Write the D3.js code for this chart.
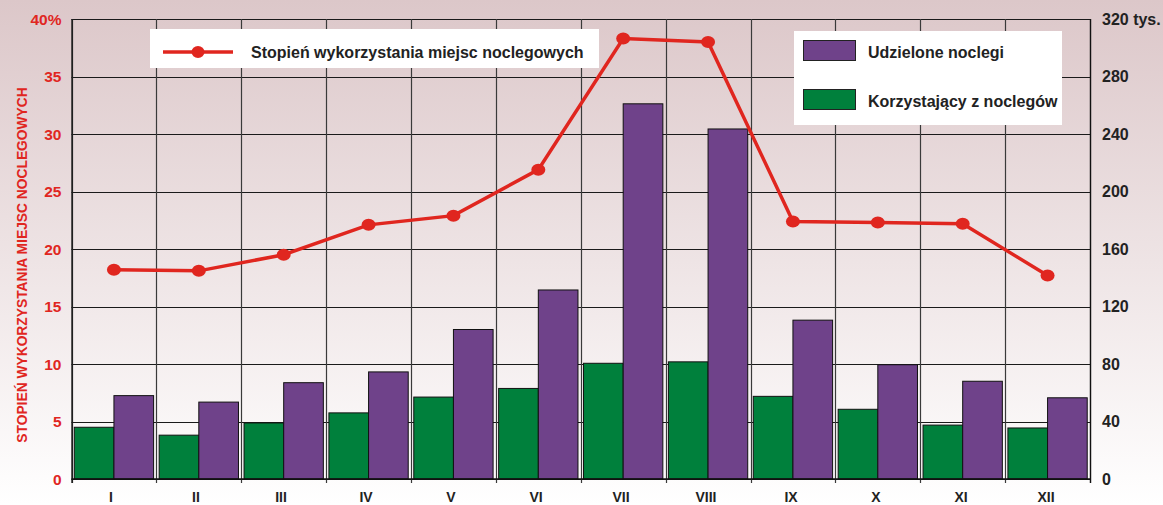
<!DOCTYPE html>
<html>
<head>
<meta charset="utf-8" />
<script src="https://cdn.jsdelivr.net/npm/d3@7"></script>
<style>
  html, body { margin: 0; padding: 0; background: #fff; }
  svg { display: block; font-family: "Liberation Sans", Arial, sans-serif; }
</style>
</head>
<body>
<div id="chart"></div>
<script>
// Chart data
var months = ['I', 'II', 'III', 'IV', 'V', 'VI', 'VII', 'VIII', 'IX', 'X', 'XI', 'XII'];
var korzystajacy = [36, 30.5, 39, 46, 57, 63, 80.5, 81.5, 57.5, 48.5, 37.5, 35.5];   // tys.
var udzielone = [58, 53.5, 67, 74.5, 104, 131.5, 261, 243.5, 110.5, 79.5, 68, 56.5];  // tys.
var stopien = [18.2, 18.1, 19.5, 22.1, 22.9, 26.9, 38.3, 38.0, 22.4, 22.3, 22.2, 17.7]; // %
var leftTicks = [0, 5, 10, 15, 20, 25, 30, 35, 40];
var rightTicks = [0, 40, 80, 120, 160, 200, 240, 280, 320];

var width = 1163, height = 505;
var margin = { left: 71.5, right: 73, top: 19, bottom: 26 };
var red = '#e0261f', purple = '#6f428a', green = '#00803c';

var svg = d3.select('#chart').append('svg')
    .attr('width', width)
    .attr('height', height);

// background gradient
var defs = svg.append('defs');
var grad = defs.append('linearGradient').attr('id', 'bg')
    .attr('x1', 0).attr('y1', 0).attr('x2', 0).attr('y2', 1);
grad.append('stop').attr('offset', '0%').attr('stop-color', '#dcc7c9');
grad.append('stop').attr('offset', '100%').attr('stop-color', '#ffffff');
svg.append('rect').attr('width', width).attr('height', height).attr('fill', 'url(#bg)');

var x0 = margin.left, x1 = width - margin.right;
var yTop = margin.top, yBot = height - margin.bottom;

var x = d3.scaleBand().domain(months).range([x0, x1]).paddingInner(0).paddingOuter(0);
var sub = d3.scaleBand().domain(['k', 'u']).range([0, x.bandwidth()]).paddingOuter(0.07).paddingInner(0);
var yL = d3.scaleLinear().domain([0, 40]).range([yBot, yTop]);
var yR = d3.scaleLinear().domain([0, 320]).range([yBot, yTop]);
// month labels sit a little left of the band centres in the original
var xLabel = d3.scalePoint().domain(months).range([x0 + 39.5, x1 - 44]);

// horizontal grid
svg.append('g').selectAll('line').data(leftTicks).enter().append('line')
    .attr('x1', x0).attr('x2', x1)
    .attr('y1', function (d) { return Math.round(yL(d)) + 0.5; })
    .attr('y2', function (d) { return Math.round(yL(d)) + 0.5; })
    .attr('stroke', '#1a1a1a').attr('stroke-width', 1.2);

// vertical grid
var bounds = months.map(function (m) { return x(m); }).concat([x1]);
svg.append('g').selectAll('line').data(bounds).enter().append('line')
    .attr('x1', function (d) { return Math.round(d) + 0.5; })
    .attr('x2', function (d) { return Math.round(d) + 0.5; })
    .attr('y1', yTop).attr('y2', yBot + 4)
    .attr('stroke', '#3a3a3a').attr('stroke-width', 1.2);

// bars
var bars = svg.append('g');
bars.selectAll('rect.k').data(korzystajacy).enter().append('rect')
    .attr('x', function (d, i) { return x(months[i]) + sub('k'); })
    .attr('width', sub.bandwidth())
    .attr('y', function (d) { return yR(d); })
    .attr('height', function (d) { return yBot - yR(d); })
    .attr('fill', green).attr('stroke', '#111').attr('stroke-width', 1);
bars.selectAll('rect.u').data(udzielone).enter().append('rect')
    .attr('x', function (d, i) { return x(months[i]) + sub('u'); })
    .attr('width', sub.bandwidth())
    .attr('y', function (d) { return yR(d); })
    .attr('height', function (d) { return yBot - yR(d); })
    .attr('fill', purple).attr('stroke', '#111').attr('stroke-width', 1);

// axis lines
svg.append('line').attr('x1', x0).attr('x2', x1).attr('y1', yBot).attr('y2', yBot)
    .attr('stroke', '#111').attr('stroke-width', 1.5);
svg.append('line').attr('x1', x0 + 0.5).attr('x2', x0 + 0.5).attr('y1', yTop).attr('y2', yBot + 4)
    .attr('stroke', '#111').attr('stroke-width', 1.3);
svg.append('line').attr('x1', x1 + 0.5).attr('x2', x1 + 0.5).attr('y1', yTop).attr('y2', yBot + 4)
    .attr('stroke', '#111').attr('stroke-width', 1.3);

// line series
var cx = function (d, i) { return x(months[i]) + x.bandwidth() / 2; };
var line = d3.line().x(cx).y(function (d) { return yL(d); });
svg.append('path').datum(stopien)
    .attr('d', line).attr('fill', 'none')
    .attr('stroke', red).attr('stroke-width', 3.5);
svg.append('g').selectAll('ellipse').data(stopien).enter().append('ellipse')
    .attr('cx', cx).attr('cy', function (d) { return yL(d); })
    .attr('rx', 7).attr('ry', 6)
    .attr('fill', red);

// left axis labels
svg.append('g').selectAll('text').data(leftTicks).enter().append('text')
    .attr('x', 61.5).attr('y', function (d) { return yL(d) + 5.5; })
    .attr('text-anchor', 'end')
    .attr('font-size', 15.5).attr('font-weight', 'bold').attr('fill', red)
    .text(function (d) { return d === 40 ? '40%' : d; });

// right axis labels
svg.append('g').selectAll('text').data(rightTicks).enter().append('text')
    .attr('x', 1102).attr('y', function (d) { return yR(d) + 5.5; })
    .attr('text-anchor', 'start')
    .attr('font-size', 16).attr('font-weight', 'bold').attr('fill', '#222')
    .text(function (d) { return d === 320 ? '320 tys.' : d; });

// month labels
svg.append('g').selectAll('text').data(months).enter().append('text')
    .attr('x', function (d) { return xLabel(d); })
    .attr('y', 502)
    .attr('text-anchor', 'middle')
    .attr('font-size', 14).attr('font-weight', 'bold').attr('fill', '#222')
    .text(function (d) { return d; });

// left axis title
svg.append('text')
    .attr('transform', 'translate(26.5,265) rotate(-90)')
    .attr('text-anchor', 'middle')
    .attr('font-size', 13.8).attr('font-weight', 'bold').attr('fill', red)
    .text('STOPIEŃ WYKORZYSTANIA MIEJSC NOCLEGOWYCH');

// legend: line
var lg1 = svg.append('g');
lg1.append('rect').attr('x', 150).attr('y', 29).attr('width', 449).attr('height', 39).attr('fill', '#fff');
lg1.append('line').attr('x1', 163).attr('x2', 233).attr('y1', 52).attr('y2', 52)
    .attr('stroke', red).attr('stroke-width', 3.5);
lg1.append('ellipse').attr('cx', 198).attr('cy', 52).attr('rx', 6.5).attr('ry', 6).attr('fill', red);
lg1.append('text').attr('x', 251).attr('y', 58)
    .attr('font-size', 16).attr('font-weight', 'bold').attr('fill', '#222')
    .text('Stopień wykorzystania miejsc noclegowych');

// legend: bars
var lg2 = svg.append('g');
lg2.append('rect').attr('x', 794).attr('y', 31).attr('width', 268).attr('height', 94).attr('fill', '#fff');
lg2.append('rect').attr('x', 803.5).attr('y', 40.5).attr('width', 52).attr('height', 20)
    .attr('fill', purple).attr('stroke', '#222');
lg2.append('rect').attr('x', 803.5).attr('y', 89.5).attr('width', 52).attr('height', 20)
    .attr('fill', green).attr('stroke', '#222');
lg2.append('text').attr('x', 868).attr('y', 58)
    .attr('font-size', 16).attr('font-weight', 'bold').attr('fill', '#222')
    .text('Udzielone noclegi');
lg2.append('text').attr('x', 868).attr('y', 107)
    .attr('font-size', 16).attr('font-weight', 'bold').attr('fill', '#222')
    .text('Korzystający z noclegów');
</script>
</body>
</html>
